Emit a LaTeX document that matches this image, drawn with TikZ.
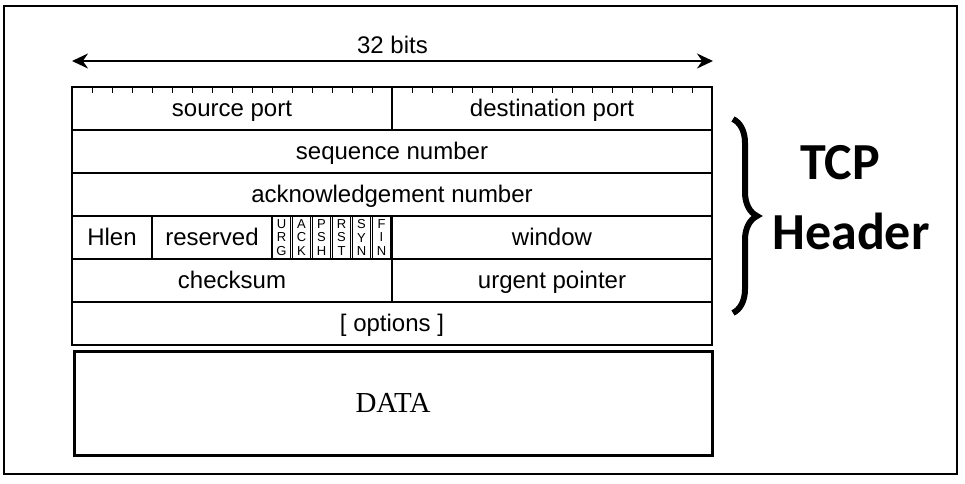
\documentclass[tikz,border=0pt]{standalone}
\usepackage{fontspec}
\setmainfont{Liberation Serif}
\newfontfamily\hdrsans{Liberation Sans}
\newfontfamily\hdrbold{Carlito}
\usepackage{tikz}
\usetikzlibrary{arrows.meta, positioning, calc, decorations.pathreplacing}

\begin{document}
\begin{tikzpicture}[x=0.5pt, y=-0.5pt,
    field/.style={draw, line width=1pt, inner sep=0pt, outer sep=0pt, anchor=north west, minimum height=21.5pt,
      font=\hdrsans\fontsize{12}{14}\selectfont, text height=9pt, text depth=1pt},
    flagbox/.style={draw, line width=0.7pt, inner sep=0pt, outer sep=0pt, minimum width=9pt, minimum height=21.5pt,
      align=center, font=\hdrsans\fontsize{6.5}{6.7}\selectfont},
    tick/.style={line width=0.5pt}]
  \useasboundingbox (0,0) rectangle (965,483);
  \draw[line width=0.75pt] (4,6) rectangle (957,474);

  % header rows
  \node[field, minimum width=160pt] (srcport) at (72,87) {source port};
  \node[field, minimum width=160pt] (dstport) at (srcport.north east) {destination port};
  \node[field, minimum width=320pt] (seqnum) at (srcport.south west) {sequence number};
  \node[field, minimum width=320pt] (acknum) at (seqnum.south west) {acknowledgement number};
  \node[field, minimum width=40pt] (hlen) at (acknum.south west) {Hlen};
  \node[field, minimum width=60pt] (reserved) at (hlen.north east) {reserved};
  \foreach \f/\n [count=\i from 0] in {U\\R\\G/urg, A\\C\\K/ack, P\\S\\H/psh, R\\S\\T/rst, S\\Y\\N/syn, F\\I\\N/fin}
    \node[flagbox] (\n) at ($(reserved.east)+(9.5+20*\i,0)$) {\f};
  \node[field, minimum width=160pt] (window) at (acknum.south) {window};
  \node[field, minimum width=160pt] (checksum) at (hlen.south west) {checksum};
  \node[field, minimum width=160pt] (urgent) at (checksum.north east) {urgent pointer};
  \node[field, minimum width=320pt] (options) at (checksum.south west) {[ options ]};
  \foreach \k in {1,...,31}
    \draw[tick] ($(srcport.north west)+(20*\k,0)$) -- ++(0,6);

  % data
  \node[draw, line width=1.5pt, anchor=north, outer sep=0pt, minimum width=319pt, minimum height=52pt,
    font=\fontsize{14.5}{16}\selectfont] (data) at ($(options.south)+(1,6)$) {DATA};

  % width arrow
  \coordinate (bitsL) at ($(srcport.north west)+(0,-26)$);
  \coordinate (bitsR) at ($(dstport.north east)+(1,-26)$);
  \draw[line width=1.2pt, {Stealth[length=8pt,width=7.5pt]}-{Stealth[length=8pt,width=7.5pt]}] (bitsL) -- (bitsR);
  \node[anchor=base, font=\hdrsans\fontsize{12}{14}\selectfont] (bitslabel) at ($(bitsL)!0.5!(bitsR)+(0,-8)$) {32 bits};

  % brace
  \coordinate (braceTop) at (733,119);
  \coordinate (braceBot) at (733,313);
  \draw[decorate, decoration={brace, amplitude=12pt}, line width=3pt] (braceTop) -- (braceBot);
  \node[font=\hdrbold\bfseries\fontsize{26}{30}\selectfont] (tcp) at (840,163) {TCP};
  \node[font=\hdrbold\bfseries\fontsize{26}{30}\selectfont] (header) at (851,231) {Header};
\end{tikzpicture}
\end{document}
